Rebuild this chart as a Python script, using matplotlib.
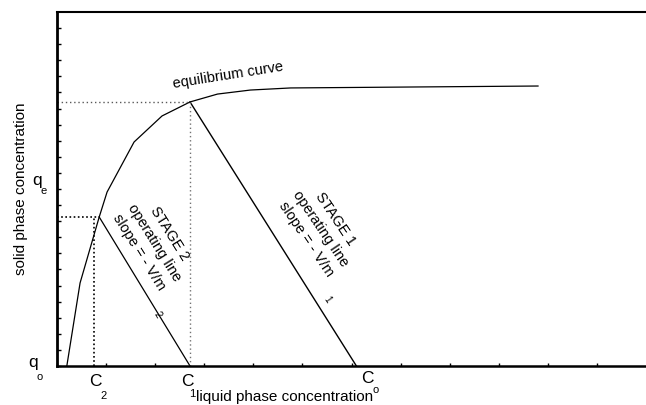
import matplotlib
matplotlib.use("Agg")
import matplotlib.pyplot as plt

plt.rcParams['font.family'] = ['Liberation Sans', 'DejaVu Sans']

# equilibrium curve (liquid conc., solid conc.)
eq_x = [0.20, 0.47, 0.86, 1.02, 1.57, 2.14, 2.71, 3.27, 3.94, 4.76, 9.80]
eq_y = [0.0, 5.16, 9.26, 10.81, 13.92, 15.54, 16.41, 16.90, 17.15, 17.28, 17.40]

c_o = 6.10
c_1 = 2.71
c_2 = 0.76
q_e = 16.41
q_2 = 9.26
x_2 = 0.86   # where stage 2 line leaves the curve

fig = plt.figure(figsize=(6.46, 4.05), dpi=100)
ax = fig.add_axes([57/646, 39/405, 589/646, 354/405])
ax.set_xlim(0, 12)
ax.set_ylim(0, 22)

ax.plot(eq_x, eq_y, color='black', lw=0.9)
# operating lines
ax.plot([c_1, c_o], [q_e, 0], color='black', lw=1.0)
ax.plot([x_2, c_1], [q_2, 0], color='black', lw=0.9)
# guide lines
ax.plot([0, c_1], [q_e, q_e], color='0.35', lw=1.0, ls=(0, (1, 2)))
ax.plot([c_1, c_1], [0, q_e], color='0.45', lw=1.0, ls=(0, (1, 2)))
ax.plot([0, x_2], [q_2, q_2], color='black', lw=1.2, ls=(0, (1, 1.5)))
ax.plot([c_2, c_2], [0, q_2], color='black', lw=1.2, ls=(0, (1, 1.5)))

ax.set_xticks(range(0, 12))
ax.set_yticks(range(0, 22))
ax.set_xticklabels([])
ax.set_yticklabels([])
ax.tick_params(axis='x', direction='in', length=2, width=1)
ax.tick_params(axis='y', direction='in', length=3, width=1)
ax.spines['left'].set_linewidth(2)
ax.spines['bottom'].set_linewidth(1.8)
ax.spines['top'].set_linewidth(1.5)
ax.spines['right'].set_visible(False)

kw = dict(ha='center', va='center', clip_on=False)
ax.text(-0.41, 11.5, 'q', fontsize=12.5, **kw)
ax.text(-0.27, 10.9, 'e', fontsize=8, **kw)
ax.text(-0.49, 0.19, 'q', fontsize=12.5, **kw)
ax.text(-0.35, -0.68, 'o', fontsize=8, **kw)
ax.text(0.78, -0.99, 'C', fontsize=12.5, **kw)
ax.text(0.94, -1.86, '2', fontsize=8, **kw)
ax.text(2.65, -0.99, 'C', fontsize=12.5, **kw)
ax.text(2.76, -1.74, '1', fontsize=8, **kw)
ax.text(6.33, -0.75, 'C', fontsize=12.5, **kw)
ax.text(6.49, -1.49, 'o', fontsize=8, **kw)

ax.text(4.63, -1.95, 'liquid phase concentration', fontsize=11, **kw)
ax.text(-0.74, 11.0, 'solid phase concentration', fontsize=11, rotation=90, **kw)
ax.text(3.49, 18.09, 'equilibrium curve', fontsize=10.5, rotation=9, **kw)

ax.text(5.37, 8.51, 'STAGE 1\noperating line\nslope = - V/m', fontsize=10.5,
        rotation=-56, linespacing=1.35, rotation_mode='anchor', **kw)
ax.text(5.51, 4.10, '1', fontsize=7, rotation=-56, **kw)
ax.text(1.98, 7.64, 'STAGE 2\noperating line\nslope = - V/m', fontsize=10.5,
        rotation=-58, linespacing=1.35, rotation_mode='anchor', **kw)
ax.text(2.04, 3.17, '2', fontsize=7, rotation=-58, **kw)

fig.savefig('out.png', dpi=100)
